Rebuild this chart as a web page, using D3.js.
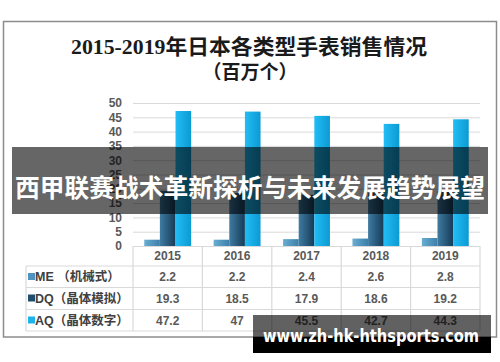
<!DOCTYPE html>
<html>
<head>
<meta charset="utf-8">
<script src="https://cdn.jsdelivr.net/npm/d3@7"></script>
<style>
  body { margin: 0; background: #fff; }
  svg { display: block; }
</style>
</head>
<body>
<svg id="chart" width="500" height="362"></svg>
<script>
var years = ["2015", "2016", "2017", "2018", "2019"];
var seriesNames = ["ME （机械式）", "DQ（晶体模拟）", "AQ（晶体数字）"];
var meValues = [2.2, 2.2, 2.4, 2.6, 2.8];
var dqValues = [19.3, 18.5, 17.9, 18.6, 19.2];
var aqValues = [47.2, 47, 45.5, 42.7, 44.3];
var yTicks = [0, 5, 10, 15, 20, 25, 30, 35, 40, 45, 50];

var series = [
    { key: "ME", name: seriesNames[0], values: meValues, c0: "#6aaed3", c1: "#3d7fa8", key_c: "#4f93bf" },
    { key: "DQ", name: seriesNames[1], values: dqValues, c0: "#3f7ba2", c1: "#163c58", key_c: "#1f4e6d" },
    { key: "AQ", name: seriesNames[2], values: aqValues, c0: "#22bdf5", c1: "#0c9ad2", key_c: "#1eb3ea" }
];

var svg = d3.select("#chart");
var font = "'Liberation Sans', 'Noto Sans CJK SC', sans-serif";

// outer frame
svg.append("rect")
    .attr("x", 3.5).attr("y", 21.5)
    .attr("width", 493).attr("height", 315.5)
    .attr("fill", "#fff").attr("stroke", "#8c8c8c").attr("stroke-width", 1.5);

// title
svg.append("text")
    .attr("x", 249).attr("y", 54)
    .attr("text-anchor", "middle")
    .attr("font-family", "'Liberation Serif', 'Noto Sans CJK SC', serif")
    .attr("font-weight", "bold").attr("font-size", 21)
    .attr("fill", "#1a1a1a")
    .attr("textLength", 356).attr("lengthAdjust", "spacingAndGlyphs")
    .text("2015-2019年日本各类型手表销售情况");
svg.append("text")
    .attr("x", 250).attr("y", 79)
    .attr("text-anchor", "middle")
    .attr("font-family", "'Noto Sans CJK SC', serif")
    .attr("font-weight", "bold").attr("font-size", 19)
    .attr("fill", "#1a1a1a")
    .text("（百万个）");

var x = d3.scaleBand().domain(years).range([133, 480]).padding(0);
var x1 = d3.scaleBand().domain(series.map(d => d.key))
    .range([0, x.bandwidth()]).paddingInner(0).paddingOuter(0.72);
var y = d3.scaleLinear().domain([0, 50]).range([246, 103]);

// gradients
var defs = svg.append("defs");
series.forEach(function(s) {
    var g = defs.append("linearGradient").attr("id", "g" + s.key)
        .attr("x1", "0").attr("x2", "1").attr("y1", "0").attr("y2", "0");
    g.append("stop").attr("offset", "0").attr("stop-color", s.c0);
    g.append("stop").attr("offset", "1").attr("stop-color", s.c1);
});

// grid + y labels
var yAxis = g => g
    .attr("transform", "translate(133,0)")
    .call(d3.axisLeft(y).tickValues(yTicks).tickSize(-(480 - 133)).tickPadding(11))
    .call(g => g.select(".domain").remove())
    .call(g => g.selectAll(".tick line").attr("stroke", "#d9d9d9"))
    .call(g => g.selectAll(".tick text")
        .attr("font-family", font).attr("font-size", 12)
        .attr("font-weight", "bold").attr("fill", "#595959"));
svg.append("g").call(yAxis);

// bars
var groups = svg.append("g").selectAll("g")
    .data(series).join("g");
groups.selectAll("rect")
    .data(s => s.values.map((v, i) => ({ s: s, v: v, year: years[i] })))
    .join("rect")
    .attr("x", d => x(d.year) + x1(d.s.key))
    .attr("width", x1.bandwidth())
    .attr("y", d => y(d.v))
    .attr("height", d => y(0) - y(d.v))
    .attr("fill", d => "url(#g" + d.s.key + ")");

// data table
var rowTop = [266, 287.5, 309.5];
var grid = svg.append("g").attr("stroke", "#d9d9d9").attr("stroke-width", 1.2).attr("fill", "none");
grid.append("line").attr("x1", 133).attr("x2", 480).attr("y1", 246.5).attr("y2", 246.5);
rowTop.concat([331]).forEach(function(r) {
    grid.append("line").attr("x1", 26).attr("x2", 480).attr("y1", r).attr("y2", r);
});
grid.append("line").attr("x1", 26).attr("x2", 26).attr("y1", 266).attr("y2", 331);
years.forEach(function(yr) {
    grid.append("line").attr("x1", x(yr)).attr("x2", x(yr)).attr("y1", 246).attr("y2", 331);
});
grid.append("line").attr("x1", 480).attr("x2", 480).attr("y1", 246).attr("y2", 331);

svg.append("g").selectAll("text")
    .data(years).join("text")
    .attr("x", d => x(d) + x.bandwidth() / 2)
    .attr("y", 260)
    .attr("text-anchor", "middle")
    .attr("font-family", font).attr("font-size", 12)
    .attr("font-weight", "bold").attr("fill", "#595959")
    .text(d => d);

var rows = svg.append("g").selectAll("g")
    .data(series).join("g")
    .attr("transform", (d, i) => "translate(0," + rowTop[i] + ")");
rows.append("rect")
    .attr("x", 28).attr("y", 7).attr("width", 7).attr("height", 7)
    .attr("fill", d => d.key_c);
rows.append("text")
    .attr("x", 35).attr("y", 15)
    .attr("font-family", font).attr("font-size", 12.5)
    .attr("font-weight", "bold").attr("fill", "#404040")
    .text(d => d.name);
rows.selectAll("text.v")
    .data(d => d.values)
    .join("text").attr("class", "v")
    .attr("x", (d, i) => x(years[i]) + x.bandwidth() / 2)
    .attr("y", 15)
    .attr("text-anchor", "middle")
    .attr("font-family", font).attr("font-size", 12)
    .attr("font-weight", "bold").attr("fill", "#595959")
    .text(d => d);

// banner overlay
svg.append("rect")
    .attr("x", 12).attr("y", 147).attr("width", 476).attr("height", 67)
    .attr("fill", "rgba(0,0,0,0.6)");
svg.append("text")
    .attr("x", 250).attr("y", 197)
    .attr("text-anchor", "middle")
    .attr("font-family", "'Noto Sans CJK SC', sans-serif")
    .attr("font-weight", "bold").attr("font-size", 25)
    .attr("fill", "#fff")
    .attr("textLength", 470).attr("lengthAdjust", "spacingAndGlyphs")
    .text("西甲联赛战术革新探析与未来发展趋势展望");

// watermark
svg.append("rect")
    .attr("x", 253).attr("y", 315).attr("width", 238).attr("height", 22)
    .attr("fill", "rgba(0,0,0,0.62)");
svg.append("rect")
    .attr("x", 253).attr("y", 337).attr("width", 238).attr("height", 16)
    .attr("fill", "#000");
svg.append("text")
    .attr("x", 371).attr("y", 342)
    .attr("text-anchor", "middle")
    .attr("font-family", "'DejaVu Sans', sans-serif")
    .attr("font-weight", "bold").attr("font-size", 17)
    .attr("fill", "#fff")
    .attr("textLength", 216).attr("lengthAdjust", "spacingAndGlyphs")
    .text("www.zh-hk-hthsports.com");
</script>
</body>
</html>
